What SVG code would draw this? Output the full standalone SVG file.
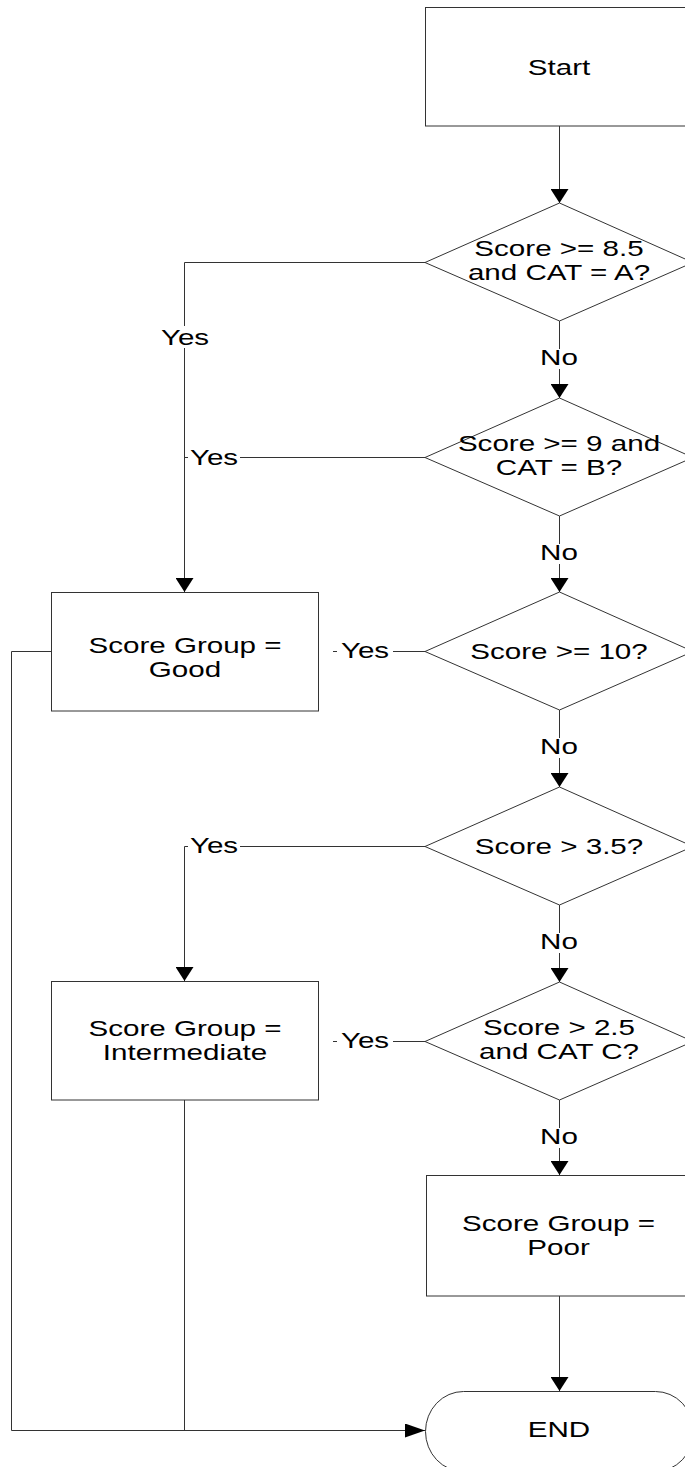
<svg xmlns="http://www.w3.org/2000/svg" width="685" height="1467" viewBox="0 0 685 1467">
<style>
.shape{fill:#fff;stroke:#333;stroke-width:1}
.conn{fill:none;stroke:#333;stroke-width:1}
.t{font-family:"Liberation Sans",Arial,sans-serif;font-size:22.5px;fill:#000;text-anchor:middle}
.bg{fill:#fff;stroke:none}
</style>
<defs>
<marker id="aV" markerUnits="userSpaceOnUse" viewBox="0 0 14 18" markerWidth="14" markerHeight="18" refX="14" refY="9" orient="auto"><path d="M0,0 L14,9 L0,18 Z" fill="#000"/></marker>
<marker id="aH" markerUnits="userSpaceOnUse" viewBox="0 0 20 14" markerWidth="20" markerHeight="14" refX="20" refY="7" orient="auto"><path d="M0,0 L20,7 L0,14 Z" fill="#000"/></marker>
</defs>
<rect width="685" height="1467" fill="#fff"/>
<g id="connectors">
<path class="conn" d="M559.5,126 V203" marker-end="url(#aV)"/>
<path class="conn" d="M559.5,321 V398" marker-end="url(#aV)"/>
<path class="conn" d="M559.5,516 V592" marker-end="url(#aV)"/>
<path class="conn" d="M559.5,710 V787" marker-end="url(#aV)"/>
<path class="conn" d="M559.5,905 V982" marker-end="url(#aV)"/>
<path class="conn" d="M559.5,1100 V1175" marker-end="url(#aV)"/>
<path class="conn" d="M559.5,1296 V1391" marker-end="url(#aV)"/>
<path class="conn" d="M425,262.5 H184.5 V592" marker-end="url(#aV)"/>
<path class="conn" d="M425,457.5 H184.5"/>
<path class="conn" d="M425,651.5 H333"/>
<path class="conn" d="M425,846.5 H184.5 V981" marker-end="url(#aV)"/>
<path class="conn" d="M425,1041.5 H333"/>
<path class="conn" d="M51,651.5 H11.5 V1430.5 H425" marker-end="url(#aH)"/>
<path class="conn" d="M184.5,1100 V1430.5"/>
<g id="labels">
<rect class="bg" x="540" y="349" width="39" height="20"/>
<text class="t" transform="translate(559,365) scale(1.315,1)">No</text>
<rect class="bg" x="540" y="544" width="39" height="20"/>
<text class="t" transform="translate(559,560) scale(1.315,1)">No</text>
<rect class="bg" x="540" y="738" width="39" height="20"/>
<text class="t" transform="translate(559,754) scale(1.315,1)">No</text>
<rect class="bg" x="540" y="933" width="39" height="20"/>
<text class="t" transform="translate(559,949) scale(1.315,1)">No</text>
<rect class="bg" x="540" y="1128" width="39" height="20"/>
<text class="t" transform="translate(559,1144) scale(1.315,1)">No</text>
<rect class="bg" x="160" y="326" width="50" height="22"/>
<text class="t" transform="translate(185,345) scale(1.315,1)">Yes</text>
<rect class="bg" x="188" y="446" width="52" height="21"/>
<text class="t" transform="translate(214,465) scale(1.315,1)">Yes</text>
<rect class="bg" x="337" y="640" width="56" height="21"/>
<text class="t" transform="translate(365,658) scale(1.315,1)">Yes</text>
<rect class="bg" x="188" y="834" width="52" height="21"/>
<text class="t" transform="translate(214,853) scale(1.315,1)">Yes</text>
<rect class="bg" x="337" y="1030" width="56" height="21"/>
<text class="t" transform="translate(365,1048) scale(1.315,1)">Yes</text>
</g>
</g>
<g id="start">
<rect class="shape" x="425.5" y="7.5" width="268" height="118.5"/>
<text class="t" transform="translate(559,75) scale(1.315,1)">Start</text>
</g>
<g id="d1">
<polygon class="shape" points="559.5,203 693,262.5 559.5,321 425,262.5"/>
<text class="t" transform="translate(559,256) scale(1.315,1)"><tspan x="0" y="0">Score &gt;= 8.5</tspan><tspan x="0" y="24.3">and CAT = A?</tspan></text>
</g>
<g id="d2">
<polygon class="shape" points="559.5,398 693,457.5 559.5,516 425,457.5"/>
<text class="t" transform="translate(559,450.5) scale(1.315,1)"><tspan x="0" y="0">Score &gt;= 9 and</tspan><tspan x="0" y="24.3">CAT = B?</tspan></text>
</g>
<g id="d3">
<polygon class="shape" points="559.5,592 693,651.5 559.5,710 425,651.5"/>
<text class="t" transform="translate(559,659) scale(1.315,1)">Score &gt;= 10?</text>
</g>
<g id="d4">
<polygon class="shape" points="559.5,787 693,846.5 559.5,905 425,846.5"/>
<text class="t" transform="translate(559,854) scale(1.315,1)">Score &gt; 3.5?</text>
</g>
<g id="d5">
<polygon class="shape" points="559.5,982 693,1041.5 559.5,1100 425,1041.5"/>
<text class="t" transform="translate(559,1034.5) scale(1.315,1)"><tspan x="0" y="0">Score &gt; 2.5</tspan><tspan x="0" y="24.3">and CAT C?</tspan></text>
</g>
<g id="good">
<rect class="shape" x="51.5" y="592.5" width="267" height="118.5"/>
<text class="t" transform="translate(185,653) scale(1.315,1)"><tspan x="0" y="0">Score Group =</tspan><tspan x="0" y="24.5">Good</tspan></text>
</g>
<g id="intermediate">
<rect class="shape" x="51.5" y="981.5" width="267" height="118.5"/>
<text class="t" transform="translate(185,1036) scale(1.315,1)"><tspan x="0" y="0">Score Group =</tspan><tspan x="0" y="24.5">Intermediate</tspan></text>
</g>
<g id="poor">
<rect class="shape" x="426.5" y="1175.5" width="267" height="120.5"/>
<text class="t" transform="translate(558.5,1231) scale(1.315,1)"><tspan x="0" y="0">Score Group =</tspan><tspan x="0" y="24.3">Poor</tspan></text>
</g>
<g id="end">
<rect class="shape" x="425.5" y="1391.5" width="268" height="80" rx="38" ry="40"/>
<text class="t" transform="translate(559,1437) scale(1.315,1)">END</text>
</g>
</svg>
